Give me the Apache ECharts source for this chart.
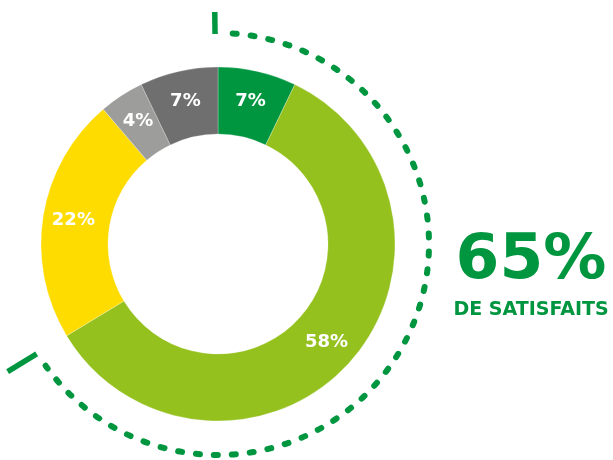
<!DOCTYPE html>
<html>
<head>
<meta charset="utf-8">
<script src="https://cdn.jsdelivr.net/npm/echarts@6/dist/echarts.min.js"></script>
<style>
  html, body { margin: 0; padding: 0; background: #fff; }
  #chart { width: 613px; height: 460px; }
</style>
</head>
<body>
<div id="chart"></div>
<script>
const categories = ["Très satisfaits", "Satisfaits", "Moyennement", "Peu satisfaits", "Pas satisfaits"];
const values = [7, 58, 22, 4, 7];
const colors = ["#009640", "#95c11f", "#ffdc00", "#9d9d9c", "#706f6f"];
const satisfiedCount = 2; // first two slices
const headline = "65%";
const subline = "DE SATISFAITS";

const center = [218, 244];
const ringRadius = [110, 177];
const dotRadius = 211;
const green = "#009640";
const fontFamily = "'DejaVu Sans'";

const total = values.reduce((a, b) => a + b, 0);
const satisfied = values.slice(0, satisfiedCount).reduce((a, b) => a + b, 0);

// angles in radians, 0 at +x, clockwise (screen coords)
const startAngle = -Math.PI / 2;
const endAngle = startAngle + (Math.PI * 2 * satisfied) / total;
const gap = (4 * Math.PI) / 180;

const tick = (angle, r0, r1) => ({
  type: "line",
  shape: {
    x1: center[0] + r0 * Math.cos(angle),
    y1: center[1] + r0 * Math.sin(angle),
    x2: center[0] + r1 * Math.cos(angle),
    y2: center[1] + r1 * Math.sin(angle),
  },
  style: { stroke: green, lineWidth: 5.5 },
});

const chart = echarts.init(document.getElementById("chart"));

chart.setOption({
  animation: false,
  series: [
    {
      type: "pie",
      center: center,
      radius: ringRadius,
      startAngle: 90,
      clockwise: true,
      silent: true,
      itemStyle: { borderColor: "rgba(255,255,255,0.5)", borderWidth: 0.5 },
      label: {
        position: "inside",
        formatter: "{c}%",
        color: "#fff",
        fontFamily: fontFamily,
        fontWeight: "bold",
        fontSize: 18,
      },
      labelLine: { show: false },
      data: categories.map((name, i) => ({
        name,
        value: values[i],
        itemStyle: { color: colors[i] },
      })),
    },
  ],
  graphic: [
    {
      type: "arc",
      shape: {
        cx: center[0],
        cy: center[1],
        r: dotRadius,
        startAngle: startAngle + gap,
        endAngle: endAngle - gap,
        clockwise: true,
      },
      style: {
        stroke: green,
        fill: null,
        lineWidth: 6,
        lineCap: "round",
        lineDash: [4, 14],
      },
    },
    tick(startAngle - 0.014, 210, 232),
    tick(endAngle, 212, 246),
    {
      type: "text",
      x: 531,
      y: 262,
      style: {
        text: headline,
        fill: green,
        font: "bold 63px " + fontFamily,
        textAlign: "center",
        textVerticalAlign: "middle",
      },
    },
    {
      type: "text",
      x: 531,
      y: 310,
      style: {
        text: subline,
        fill: green,
        font: "bold 19px " + fontFamily,
        textAlign: "center",
        textVerticalAlign: "middle",
      },
    },
  ],
});
</script>
</body>
</html>
